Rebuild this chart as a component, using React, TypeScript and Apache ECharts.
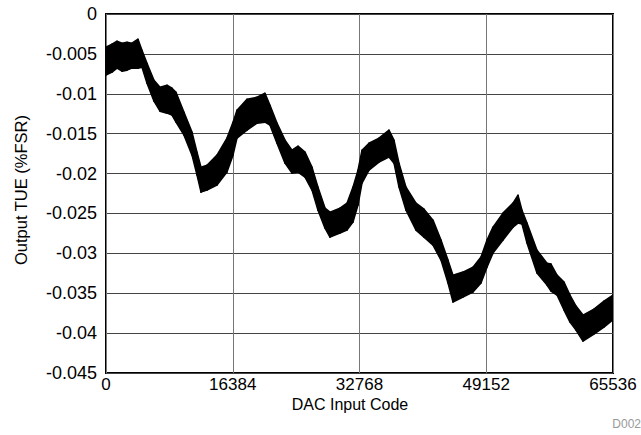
import React, { useEffect, useRef } from "react";
import * as echarts from "echarts";

// DAC input codes at which the band envelope was read
const codes = [
  0, 776, 1422, 2068, 2714, 3361, 4136, 4653, 5300, 6204, 6980, 7885, 8531, 9048,
  10082, 11116, 11763, 12280, 13055, 14348, 15640, 16416, 16933, 18226, 19518,
  20552, 21199, 22103, 23138, 24042, 24818, 25723, 26628, 27403, 28308, 28954,
  30247, 31152, 31927, 32574, 33091, 33995, 35288, 36580, 37227, 37873, 38778,
  40071, 41105, 42268, 43302, 44207, 44853, 46146, 47438, 48473, 49248, 50024,
  51316, 52609, 53255, 53772, 54418, 55711, 57004, 57520, 58296, 59201, 59977,
  60752, 61657, 63079, 64372, 65536,
];

// Upper edge of the TUE band (%FSR)
const upperTUE = [
  -0.00416, -0.00378, -0.00341, -0.00366, -0.00353, -0.00366, -0.00316, -0.00454,
  -0.00617, -0.0083, -0.00917, -0.00892, -0.0093, -0.0098, -0.01231, -0.01481,
  -0.01732, -0.0192, -0.01895, -0.01769, -0.01556, -0.01356, -0.01205, -0.01068,
  -0.01043, -0.00993, -0.01143, -0.01368, -0.01581, -0.01707, -0.01657, -0.01732,
  -0.0192, -0.0217, -0.02433, -0.02484, -0.02433, -0.02371, -0.0217, -0.01957,
  -0.01707, -0.01619, -0.01556, -0.01456, -0.01581, -0.0187, -0.0217, -0.02371,
  -0.02446, -0.02584, -0.02834, -0.03085, -0.03273, -0.03235, -0.03173, -0.03047,
  -0.02834, -0.02672, -0.02496, -0.02371, -0.02271, -0.02459, -0.02621, -0.0296,
  -0.03123, -0.03135, -0.03273, -0.03361, -0.03523, -0.03661, -0.03774, -0.03699,
  -0.03599, -0.03523,
];

// Lower edge of the TUE band (%FSR)
const lowerTUE = [
  -0.00767, -0.00729, -0.00679, -0.00717, -0.00704, -0.00679, -0.00679, -0.00667,
  -0.00867, -0.01093, -0.01218, -0.01243, -0.01268, -0.01356, -0.01519, -0.01769,
  -0.0202, -0.02233, -0.02208, -0.02145, -0.01982, -0.01769, -0.01556, -0.01456,
  -0.01368, -0.01356, -0.01393, -0.01619, -0.0187, -0.01995, -0.01982, -0.02045,
  -0.02208, -0.02459, -0.02684, -0.02797, -0.02747, -0.02709, -0.02609, -0.02396,
  -0.0212, -0.01957, -0.01857, -0.01794, -0.0187, -0.0217, -0.02459, -0.02709,
  -0.02797, -0.02897, -0.03085, -0.03373, -0.03611, -0.03549, -0.03486, -0.03373,
  -0.03173, -0.02997, -0.02834, -0.02672, -0.02621, -0.02634, -0.02872, -0.03248,
  -0.03398, -0.03473, -0.03523, -0.03711, -0.03862, -0.03962, -0.041, -0.04012,
  -0.03924, -0.03834,
];

const xTicks = [0, 16384, 32768, 49152, 65536];

const FONT = "'Liberation Sans', Arial, Helvetica, sans-serif";

export default function App() {
  const ref = useRef<HTMLDivElement>(null);

  useEffect(() => {
    document.body.style.margin = "0";
    if (!ref.current) return;
    const chart = echarts.init(ref.current, undefined, { renderer: "svg" });

    const bandData = codes.map((c, i) => [c, upperTUE[i], lowerTUE[i]]);

    chart.setOption({
      animation: false,
      backgroundColor: "#fff",
      textStyle: { fontFamily: FONT, color: "#000" },
      grid: {
        left: 106,
        right: 28,
        top: 14,
        bottom: 62,
        show: true,
        borderColor: "#000",
        borderWidth: 2,
        backgroundColor: "transparent",
        containLabel: false,
        outerBoundsMode: "none",
      },
      xAxis: {
        type: "value",
        min: xTicks[0],
        max: xTicks[xTicks.length - 1],
        interval: 16384,
        axisLine: { show: false },
        axisTick: { show: false },
        splitLine: { show: true, lineStyle: { color: "#777", width: 1 } },
        axisLabel: {
          color: "#000",
          fontSize: 17,
          fontFamily: FONT,
          margin: 3,
          lineHeight: 17,
          formatter: (v: number) => String(v),
        },
      },
      yAxis: {
        type: "value",
        min: -0.045,
        max: 0,
        interval: 0.005,
        axisLine: { show: false },
        axisTick: { show: false },
        splitLine: { show: true, lineStyle: { color: "#444", width: 1 } },
        axisLabel: {
          color: "#000",
          fontSize: 18,
          fontFamily: FONT,
          margin: 9,
          formatter: (v: number) => (Math.abs(v) < 1e-9 ? "0" : String(+v.toFixed(3))),
        },
      },
      graphic: [
        {
          type: "text",
          x: 350,
          y: 404,
          style: {
            text: "DAC Input Code",
            fontSize: 16,
            lineHeight: 16,
            fontFamily: FONT,
            fill: "#000",
            align: "center",
            verticalAlign: "middle",
          },
        },
        {
          type: "text",
          x: 21,
          y: 190,
          rotation: Math.PI / 2,
          style: {
            text: "Output TUE (%FSR)",
            fontSize: 16.5,
            fontFamily: FONT,
            fill: "#000",
            align: "center",
            verticalAlign: "middle",
          },
        },
        {
          type: "text",
          x: 641,
          y: 424,
          style: {
            text: "D002",
            fontSize: 12,
            fontFamily: FONT,
            fill: "#999",
            align: "right",
            verticalAlign: "middle",
          },
        },
      ],
      series: [
        {
          name: "TUE",
          type: "custom",
          data: bandData,
          encode: { x: 0, y: [1, 2] },
          clip: true,
          z: 3,
          renderItem: (params: any, api: any) => {
            const i = params.dataIndex;
            if (i >= codes.length - 1) return null;
            const a1 = api.coord([codes[i], upperTUE[i]]);
            const b1 = api.coord([codes[i + 1], upperTUE[i + 1]]);
            const b2 = api.coord([codes[i + 1], lowerTUE[i + 1]]);
            const a2 = api.coord([codes[i], lowerTUE[i]]);
            return {
              type: "polygon",
              shape: { points: [a1, b1, b2, a2] },
              style: { fill: "#000", stroke: "#000", lineWidth: 1.5, lineJoin: "round" },
            };
          },
        },
      ],
    });

    return () => chart.dispose();
  }, []);

  return <div ref={ref} style={{ width: 641, height: 435 }} />;
}
